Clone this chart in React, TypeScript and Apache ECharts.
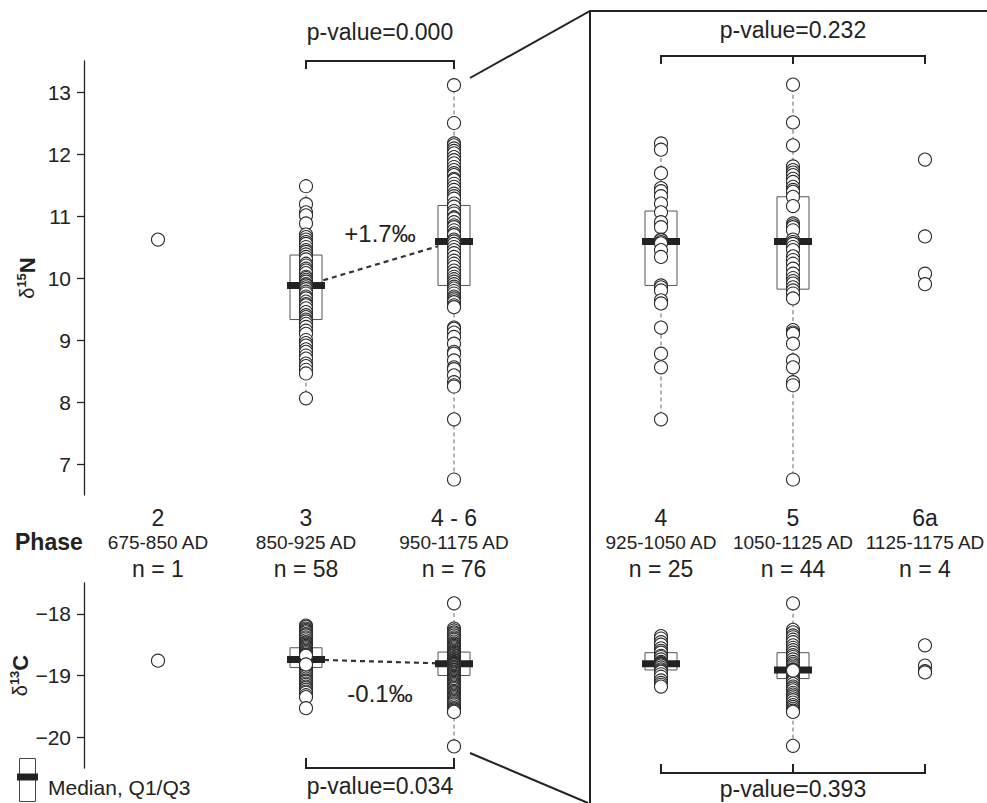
import React, { useEffect, useRef } from 'react';
import * as echarts from 'echarts';

const FONT = "'Liberation Sans', Arial, Helvetica, sans-serif";
const INK = '#222';

// ---- categories ----
const leftPhases = ['2', '3', '4 - 6'];
const leftPeriods = ['675-850 AD', '850-925 AD', '950-1175 AD'];
const leftCounts = [1, 58, 76];
const rightPhases = ['4', '5', '6a'];
const rightPeriods = ['925-1050 AD', '1050-1125 AD', '1125-1175 AD'];
const rightCounts = [25, 44, 4];

// ---- axis ticks ----
const n15Ticks = [7, 8, 9, 10, 11, 12, 13];
const c13Ticks = [-20, -19, -18];

// ---- δ15N values ----
const n15P2 = [10.62];
const n15P3 = [11.48, 11.19, 11.06, 11.01, 10.88, 10.7, 10.66, 10.62, 10.58, 10.55, 10.5, 10.45, 10.42, 10.38, 10.34, 10.3, 10.23, 10.2, 10.15, 10.12, 10.08, 10.02, 10.0, 9.97, 9.94, 9.9, 9.88, 9.85, 9.82, 9.78, 9.75, 9.7, 9.67, 9.62, 9.58, 9.56, 9.51, 9.45, 9.4, 9.37, 9.33, 9.3, 9.26, 9.21, 9.15, 9.1, 9.0, 8.95, 8.91, 8.85, 8.81, 8.75, 8.7, 8.62, 8.58, 8.52, 8.46, 8.06];
const n15P46 = [13.11, 12.5, 12.17, 12.14, 12.09, 12.05, 12.01, 11.95, 11.9, 11.85, 11.79, 11.74, 11.69, 11.66, 11.6, 11.58, 11.52, 11.47, 11.42, 11.36, 11.32, 11.28, 11.2, 11.15, 11.08, 11.04, 10.98, 10.96, 10.9, 10.85, 10.82, 10.77, 10.72, 10.69, 10.62, 10.59, 10.55, 10.5, 10.45, 10.4, 10.34, 10.28, 10.23, 10.18, 10.12, 10.07, 10.02, 9.98, 9.94, 9.9, 9.86, 9.83, 9.79, 9.75, 9.7, 9.67, 9.64, 9.61, 9.56, 9.53, 9.2, 9.18, 9.12, 9.05, 8.94, 8.81, 8.78, 8.67, 8.56, 8.53, 8.43, 8.32, 8.27, 8.25, 7.72, 6.75];
const n15P4 = [12.17, 12.07, 11.69, 11.45, 11.4, 11.32, 11.2, 11.06, 10.9, 10.82, 10.62, 10.61, 10.58, 10.56, 10.45, 10.34, 9.88, 9.85, 9.8, 9.64, 9.59, 9.2, 8.78, 8.56, 7.72];
const n15P5 = [13.12, 12.51, 12.14, 11.8, 11.74, 11.7, 11.66, 11.6, 11.55, 11.47, 11.42, 11.39, 11.31, 11.16, 10.88, 10.85, 10.82, 10.77, 10.62, 10.58, 10.55, 10.5, 10.45, 10.35, 10.29, 10.23, 10.15, 10.07, 10.0, 9.95, 9.91, 9.85, 9.8, 9.75, 9.67, 9.16, 9.12, 9.1, 8.94, 8.67, 8.56, 8.32, 8.27, 6.75];
const n15P6a = [11.91, 10.67, 10.07, 9.9];

// ---- δ13C values ----
const c13P2 = [-18.76];
const c13P3 = [-18.19, -18.21, -18.24, -18.26, -18.28, -18.3, -18.33, -18.35, -18.38, -18.4, -18.43, -18.46, -18.48, -18.5, -18.52, -18.54, -18.56, -18.58, -18.6, -18.62, -18.64, -18.66, -18.67, -18.69, -18.71, -18.72, -18.74, -18.74, -18.75, -18.77, -18.78, -18.8, -18.81, -18.83, -18.85, -18.87, -18.88, -18.9, -18.92, -18.95, -18.97, -19.0, -19.02, -19.05, -19.08, -19.1, -19.13, -19.15, -19.18, -19.2, -19.23, -19.26, -19.28, -19.32, -19.35, -18.68, -18.82, -19.53];
const c13P46 = [-17.83, -18.24, -18.27, -18.3, -18.32, -18.35, -18.38, -18.4, -18.42, -18.45, -18.48, -18.5, -18.52, -18.54, -18.56, -18.58, -18.6, -18.62, -18.63, -18.65, -18.67, -18.68, -18.7, -18.72, -18.73, -18.75, -18.76, -18.78, -18.79, -18.8, -18.81, -18.81, -18.82, -18.83, -18.84, -18.86, -18.87, -18.88, -18.9, -18.91, -18.92, -18.94, -18.95, -18.97, -18.98, -19.0, -19.01, -19.02, -19.04, -19.06, -19.08, -19.1, -19.12, -19.14, -19.16, -19.18, -19.2, -19.22, -19.25, -19.27, -19.29, -19.31, -19.33, -19.35, -19.37, -19.39, -19.41, -19.43, -19.45, -19.47, -19.5, -19.53, -19.55, -19.57, -19.59, -20.15];
const c13P4 = [-18.36, -18.4, -18.46, -18.5, -18.56, -18.6, -18.63, -18.68, -18.7, -18.74, -18.78, -18.8, -18.81, -18.82, -18.84, -18.87, -18.9, -18.92, -18.94, -18.98, -19.02, -19.08, -19.12, -19.15, -19.18];
const c13P5 = [-17.83, -18.26, -18.3, -18.35, -18.38, -18.42, -18.46, -18.51, -18.55, -18.59, -18.63, -18.67, -18.7, -18.74, -18.78, -18.81, -18.84, -18.87, -18.9, -18.91, -18.93, -18.96, -18.99, -19.02, -19.05, -19.08, -19.1, -19.14, -19.18, -19.21, -19.24, -19.28, -19.31, -19.34, -19.37, -19.4, -19.44, -19.48, -19.51, -19.54, -19.57, -19.59, -18.92, -20.14];
const c13P6a = [-18.51, -18.84, -18.93, -18.95];

// ---- box statistics (null = no box) ----
const n15LeftQ1 = [null, 9.33, 9.88];
const n15LeftMedian = [null, 9.88, 10.59];
const n15LeftQ3 = [null, 10.37, 11.17];
const n15RightQ1 = [9.88, 9.82, null];
const n15RightMedian = [10.59, 10.59, null];
const n15RightQ3 = [11.08, 11.31, null];
const c13LeftQ1 = [null, -18.87, -19.0];
const c13LeftMedian = [null, -18.74, -18.81];
const c13LeftQ3 = [null, -18.55, -18.62];
const c13RightQ1 = [-18.91, -19.05, null];
const c13RightMedian = [-18.81, -18.91, null];
const c13RightQ3 = [-18.63, -18.63, null];

// ---- annotations ----
const pValues = ['0.000', '0.232', '0.034', '0.393'];
const medianShifts = ['+1.7‰', '-0.1‰'];

const n15Left = [n15P2, n15P3, n15P46];
const n15Right = [n15P4, n15P5, n15P6a];
const c13Left = [c13P2, c13P3, c13P46];
const c13Right = [c13P4, c13P5, c13P6a];

function boxData(cols: number[][], q1: (number | null)[], med: (number | null)[], q3: (number | null)[]) {
  const out: number[][] = [];
  cols.forEach((vals, i) => {
    if (q1[i] == null) return;
    out.push([i, Math.min(...vals), q1[i] as number, med[i] as number, q3[i] as number, Math.max(...vals)]);
  });
  return out;
}

function renderBox(params: any, api: any) {
  const x = api.value(0);
  const pMin = api.coord([x, api.value(1)]);
  const pQ1 = api.coord([x, api.value(2)]);
  const pMed = api.coord([x, api.value(3)]);
  const pQ3 = api.coord([x, api.value(4)]);
  const pMax = api.coord([x, api.value(5)]);
  const cx = pMed[0];
  const whisker = { stroke: '#666', lineWidth: 1, lineDash: [4, 3] };
  return {
    type: 'group',
    children: [
      { type: 'line', shape: { x1: cx, y1: pQ3[1], x2: cx, y2: pMax[1] }, style: whisker },
      { type: 'line', shape: { x1: cx, y1: pQ1[1], x2: cx, y2: pMin[1] }, style: whisker },
      { type: 'rect', shape: { x: cx - 16, y: pQ3[1], width: 32, height: pQ1[1] - pQ3[1] }, style: { fill: '#fff', stroke: '#555', lineWidth: 1 } },
      { type: 'rect', shape: { x: cx - 19, y: pMed[1] - 3.5, width: 38, height: 7 }, style: { fill: INK } },
    ],
  };
}

function catAxis(gridIndex: number, phases: string[], periods: string[], counts: number[], show: boolean) {
  return {
    type: 'category',
    gridIndex,
    data: phases,
    show,
    axisLine: { show: false },
    axisTick: { show: false },
    axisLabel: {
      interval: 0,
      margin: 11,
      hideOverlap: false,
      formatter: (_v: string, i: number) => `{a|${phases[i]}}\n{b|${periods[i]}}\n{c|n = ${counts[i]}}`,
      rich: {
        a: { fontSize: 23, lineHeight: 24, color: INK, fontFamily: FONT },
        b: { fontSize: 19, lineHeight: 25, color: INK, fontFamily: FONT },
        c: { fontSize: 23, lineHeight: 28, color: INK, fontFamily: FONT },
      },
    },
  };
}

function valAxis(gridIndex: number, min: number, max: number, ticks: number[], show: boolean, name: string) {
  return {
    type: 'value',
    gridIndex,
    min,
    max,
    show,
    splitLine: { show: false },
    axisLine: { show: true, lineStyle: { color: INK, width: 1.3 } },
    axisTick: { show: true, length: 7, lineStyle: { color: INK, width: 1.3 }, customValues: ticks },
    axisLabel: {
      customValues: ticks,
      margin: 13,
      fontSize: 21,
      color: INK,
      fontFamily: FONT,
      formatter: (v: number) => String(v).replace('-', '\u2212'),
    },
    name,
    nameLocation: 'middle',
    nameRotate: 90,
    nameGap: 45,
    nameTextStyle: {
      rich: {
        d: { fontSize: 20, lineHeight: 24, color: INK, fontFamily: FONT },
        s: { fontSize: 13, lineHeight: 14, fontWeight: 'bold', verticalAlign: 'top', color: INK, fontFamily: FONT },
        n: { fontSize: 22, lineHeight: 24, fontWeight: 'bold', color: INK, fontFamily: FONT },
      },
    },
  };
}

function scatter(g: number, cols: number[][]) {
  const data: number[][] = [];
  cols.forEach((vals, i) => vals.forEach((v) => data.push([i, v])));
  return {
    type: 'scatter',
    xAxisIndex: g,
    yAxisIndex: g,
    data,
    symbol: 'circle',
    symbolSize: 13,
    z: 5,
    silent: true,
    itemStyle: { color: '#fff', borderColor: '#2a2a2a', borderWidth: 1.1, opacity: 1 },
  };
}

function boxes(g: number, data: number[][]) {
  return {
    type: 'custom',
    xAxisIndex: g,
    yAxisIndex: g,
    data,
    z: 2,
    silent: true,
    clip: false,
    encode: { x: 0, y: [1, 2, 3, 4, 5] },
    renderItem: renderBox,
  };
}

function medianLink(g: number, med: (number | null)[]) {
  return {
    type: 'line',
    xAxisIndex: g,
    yAxisIndex: g,
    data: [[1, med[1]], [2, med[2]]],
    symbol: 'none',
    z: 1,
    silent: true,
    lineStyle: { color: '#333', width: 2.2, type: [5, 4] },
  };
}

function buildOption() {
  const topGrid = { top: 61, height: 434 };
  const botGrid = { top: 583, height: 185 };
  const left = { left: 84, width: 444 };
  const right = { left: 595, width: 396 };
  return {
    animation: false,
    backgroundColor: '#fff',
    textStyle: { fontFamily: FONT },
    grid: [
      { ...left, ...topGrid, outerBoundsMode: 'none' },
      { ...right, ...topGrid, outerBoundsMode: 'none' },
      { ...left, ...botGrid, outerBoundsMode: 'none' },
      { ...right, ...botGrid, outerBoundsMode: 'none' },
    ],
    xAxis: [
      catAxis(0, leftPhases, leftPeriods, leftCounts, true),
      catAxis(1, rightPhases, rightPeriods, rightCounts, true),
      catAxis(2, leftPhases, leftPeriods, leftCounts, false),
      catAxis(3, rightPhases, rightPeriods, rightCounts, false),
    ],
    yAxis: [
      valAxis(0, 6.5, 13.5, n15Ticks, true, '{d|δ}{s|15}{n|N}'),
      valAxis(1, 6.5, 13.5, n15Ticks, false, ''),
      valAxis(2, -20.5, -17.5, c13Ticks, true, '{d|δ}{s|13}{n|C}'),
      valAxis(3, -20.5, -17.5, c13Ticks, false, ''),
    ],
    series: [
      medianLink(0, n15LeftMedian),
      medianLink(2, c13LeftMedian),
      boxes(0, boxData(n15Left, n15LeftQ1, n15LeftMedian, n15LeftQ3)),
      boxes(1, boxData(n15Right, n15RightQ1, n15RightMedian, n15RightQ3)),
      boxes(2, boxData(c13Left, c13LeftQ1, c13LeftMedian, c13LeftQ3)),
      boxes(3, boxData(c13Right, c13RightQ1, c13RightMedian, c13RightQ3)),
      scatter(0, n15Left),
      scatter(1, n15Right),
      scatter(2, c13Left),
      scatter(3, c13Right),
    ],
  };
}

function buildGraphics(chart: any) {
  const px = (g: number, c: number, v: number) => chart.convertToPixel({ gridIndex: g }, [c, v]) as number[];
  const stroke = { stroke: INK, lineWidth: 2, fill: null };
  const poly = (pts: number[][]) => ({ type: 'polyline', silent: true, shape: { points: pts }, style: stroke });
  const txt = (x: number, y: number, s: string, fontSize: number, align = 'center', fontWeight = 'normal') => ({
    type: 'text',
    silent: true,
    x,
    y,
    style: { text: s, fontSize, fontWeight, fontFamily: FONT, fill: INK, align, verticalAlign: 'middle' },
  });

  const xa = px(0, 1, 10)[0];
  const xb = px(0, 2, 10)[0];
  const x4 = px(1, 0, 10)[0];
  const x5 = px(1, 1, 10)[0];
  const x6 = px(1, 2, 10)[0];

  const mN3 = px(0, 1, n15LeftMedian[1] as number);
  const mN46 = px(0, 2, n15LeftMedian[2] as number);
  const mC3 = px(2, 1, c13LeftMedian[1] as number);
  const mC46 = px(2, 2, c13LeftMedian[2] as number);

  const frameX = 590;
  const els: any[] = [
    // brackets
    poly([[xa, 69], [xa, 61], [xb, 61], [xb, 69]]),
    txt((xa + xb) / 2, 32, `p-value=${pValues[0]}`, 23),
    poly([[x4, 64], [x4, 56], [x6, 56], [x6, 64]]),
    poly([[x5, 56], [x5, 64]]),
    txt(x5, 30, `p-value=${pValues[1]}`, 23),
    poly([[xa, 758], [xa, 768], [xb, 768], [xb, 758]]),
    txt((xa + xb) / 2, 786, `p-value=${pValues[2]}`, 23),
    poly([[x4, 764], [x4, 773], [x6, 773], [x6, 764]]),
    poly([[x5, 773], [x5, 764]]),
    txt(x5, 789, `p-value=${pValues[3]}`, 23),
    // median shift labels
    txt((mN3[0] + mN46[0]) / 2, (mN3[1] + mN46[1]) / 2 - 30, medianShifts[0], 24),
    txt((mC3[0] + mC46[0]) / 2, (mC3[1] + mC46[1]) / 2 + 32, medianShifts[1], 24),
    // zoom frame
    poly([[xb + 16, 78], [frameX, 11], [987, 11]]),
    poly([[frameX, 11], [frameX, 803]]),
    poly([[xb + 16, 753], [frameX - 2, 803]]),
    // phase label
    txt(15, 542, 'Phase', 23, 'left', 'bold'),
    // legend
    { type: 'rect', silent: true, shape: { x: 19.5, y: 758.5, width: 16, height: 43 }, style: { fill: '#fff', stroke: '#444', lineWidth: 1 } },
    { type: 'rect', silent: true, shape: { x: 17, y: 773.5, width: 21, height: 7 }, style: { fill: INK } },
    txt(48, 787, 'Median, Q1/Q3', 21, 'left'),
  ];
  return els;
}

export default function App() {
  const ref = useRef<HTMLDivElement>(null);
  useEffect(() => {
    const chart = echarts.init(ref.current as HTMLDivElement, null, { renderer: 'svg' });
    chart.setOption(buildOption() as any);
    chart.setOption({ graphic: buildGraphics(chart) } as any);
    return () => chart.dispose();
  }, []);
  return (
    <div
      ref={ref}
      style={{ position: 'fixed', left: 0, top: 0, width: 987, height: 803, background: '#fff' }}
    />
  );
}
